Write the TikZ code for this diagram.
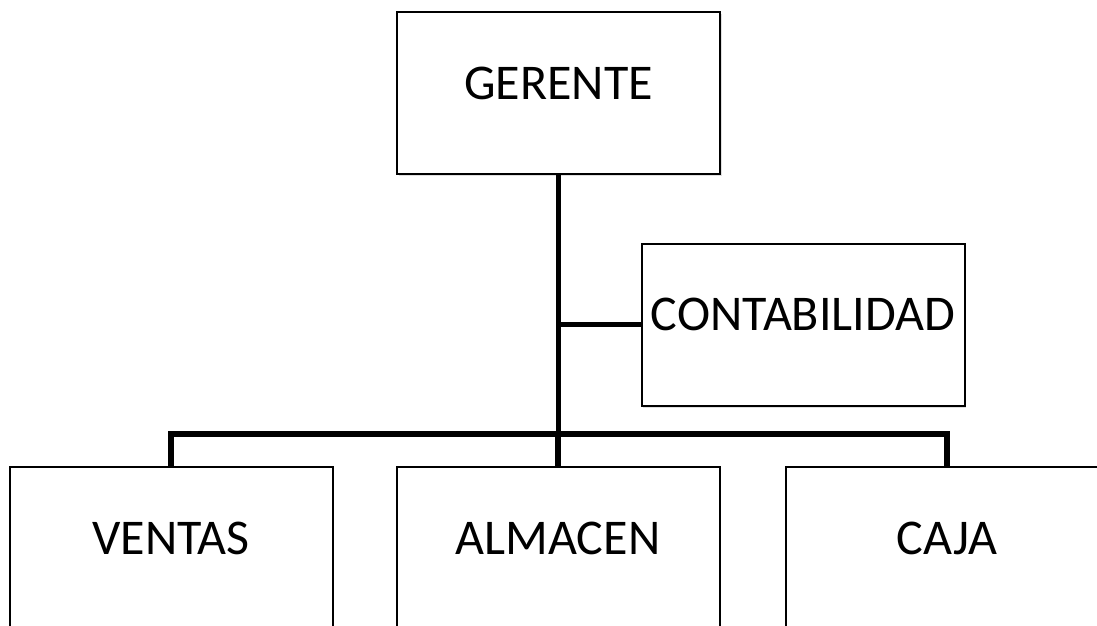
\documentclass[tikz,border=0pt]{standalone}
\usepackage{fontspec}
\setmainfont{Carlito}
\usepackage{tikz}
\usetikzlibrary{positioning,shadows}

\begin{document}
\begin{tikzpicture}
        [x=1pt,y=-1pt,
         caja/.style={draw,line width=2pt,fill=white,minimum width=323pt,minimum height=162pt,
           text depth=20pt,font=\fontsize{50}{60}\selectfont,
           drop shadow={shadow xshift=1.5pt,shadow yshift=-2pt,opacity=0.25}},
         linea/.style={line width=5.5pt}]
        \clip (0,0) rectangle (1097,625);
        \fill[white] (0,0) rectangle (1097,625);

        \node[caja] (ger) at (558.5,93) {GERENTE};
        \node[caja] (cont) at (803,324.5) {CONTABILIDAD};
        \node[caja] (ven) at (171,548) {VENTAS};
        \node[caja] (alm) at (558,548) {ALMACEN};
        \node[caja] (caj) at (947,548) {CAJA};

        \coordinate (bus) at (ger.south |- 0,434);

        \draw[linea] (ger.south) -- (bus);
        \draw[linea] (ger.south |- cont.west) -- (cont.west);
        \foreach \to in {ven, alm, caj}
            \draw[linea] (bus) -| (\to.north);

\end{tikzpicture}
\end{document}
